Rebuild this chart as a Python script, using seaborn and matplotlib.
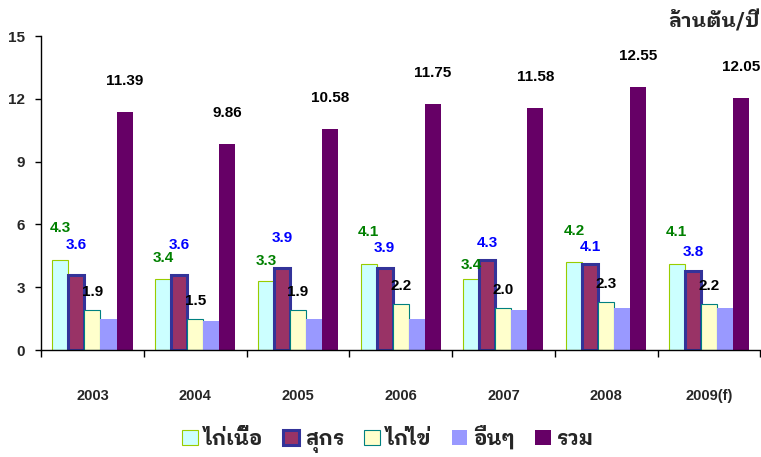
import numpy as np
import pandas as pd
import matplotlib
matplotlib.use('Agg')
import matplotlib.pyplot as plt
import seaborn as sns
from matplotlib.patches import Patch
from matplotlib import font_manager
from matplotlib.ft2font import FT2Font

# data (million tonnes / year)
years = ['2003', '2004', '2005', '2006', '2007', '2008', '2009(f)']
series_names = ['ไก่เนื้อ', 'สุกร', 'ไก่ไข่', 'อื่นๆ', 'รวม']
broiler = [4.3, 3.4, 3.3, 4.1, 3.4, 4.2, 4.1]
swine = [3.6, 3.6, 3.9, 3.9, 4.3, 4.1, 3.8]
layer = [1.9, 1.5, 1.9, 2.2, 2.0, 2.3, 2.2]
other = [1.5, 1.4, 1.5, 1.5, 1.9, 2.0, 2.0]
total = [11.39, 9.86, 10.58, 11.75, 11.58, 12.55, 12.05]

fills = ['#CCFFFF', '#993366', '#FFFFCC', '#9999FF', '#660066']
edges = ['#99CC00', '#333399', '#008080', '#9999FF', '#660066']
edge_widths = [0.8, 2.2, 0.8, 0, 0]

# label lift above bar top, in pixels (hand placed in the original)
broiler_lift = [32, 21, 20, 32, 14, 31, 32]
swine_lift = [30, 30, 30, 20, 17, 17, 19]

# pick a font that has Thai glyphs, prefer looped ones with a bold face
names = set()
for f in font_manager.fontManager.ttflist:
    try:
        if 0x0E01 in FT2Font(f.fname).get_charmap():
            names.add(f.name)
    except Exception:
        pass
preferred = ['IBM Plex Sans Thai Looped', 'Noto Sans Thai Looped', 'Loma', 'Garuda', 'Sarabun']
thai_family = next((p for p in preferred if p in names), sorted(names)[0] if names else 'DejaVu Sans')

sns.set_style('white')
plt.rcParams['font.family'] = ['Liberation Sans', thai_family, 'DejaVu Sans']

df = pd.DataFrame({
    'year': years * 5,
    'type': np.repeat(series_names, len(years)),
    'value': broiler + swine + layer + other + total,
})

fig = plt.figure(figsize=(7.61, 4.57), dpi=100)
ax = fig.add_axes([0.054, 0.234, 0.945, 0.687])

sns.barplot(data=df, x='year', y='value', hue='type', hue_order=series_names,
            palette=fills, width=0.78, saturation=1, legend=False, ax=ax)

for cont, ec, lw in zip(ax.containers, edges, edge_widths):
    for bar in cont:
        bar.set_edgecolor(ec)
        bar.set_linewidth(lw)

# value labels
label_sets = [(0, broiler, '#008000', broiler_lift, '{:.1f}'),
              (1, swine, '#0000FF', swine_lift, '{:.1f}'),
              (2, layer, 'black', [18] * len(years), '{:.1f}'),
              (4, total, 'black', [31] * len(years), '{:.2f}')]
for idx, vals, col, lifts, fmt in label_sets:
    for bar, v, off in zip(ax.containers[idx], vals, lifts):
        ax.annotate(fmt.format(v), (bar.get_x() + bar.get_width() / 2, v),
                    xytext=(0, off), textcoords='offset pixels',
                    ha='center', va='center', color=col,
                    fontsize=11, fontweight='bold')

ax.set_ylim(0, 15)
ax.set_yticks([0, 3, 6, 9, 12, 15])
ax.set_xlim(-0.5, len(years) - 0.5)
ax.set_xticks(np.arange(-0.5, len(years), 1))
ax.set_xticklabels([])
ax.set_xticks(np.arange(len(years)), minor=True)
ax.set_xticklabels(years, minor=True, fontsize=10.5, fontweight='bold')
ax.tick_params(axis='x', which='major', direction='out', length=5, width=1, color='black', bottom=True)
ax.tick_params(axis='x', which='minor', length=0, pad=28)
ax.tick_params(axis='y', direction='out', length=4.5, width=1, color='black', left=True, pad=7)
for t in ax.get_yticklabels():
    t.set_fontweight('bold')
    t.set_fontsize(11)
ax.set_xlabel('')
ax.set_ylabel('')
sns.despine(ax=ax)
for s in ['left', 'bottom']:
    ax.spines[s].set_color('black')
    ax.spines[s].set_linewidth(1)

fig.text(0.999, 0.955, 'ล้านตัน/ปี', ha='right', va='center', fontsize=14.5,
         fontweight='bold', family=[thai_family, 'DejaVu Sans'])

handles = [Patch(facecolor=fc, edgecolor=ec, linewidth=lw)
           for fc, ec, lw in zip(fills, edges, edge_widths)]
fig.legend(handles, series_names, loc='center', bbox_to_anchor=(0.51, 0.04),
           ncol=5, frameon=False, handlelength=0.75, handleheight=0.75, handletextpad=0.3,
           columnspacing=0.95, prop={'family': [thai_family, 'DejaVu Sans'], 'size': 15, 'weight': 'bold'})

fig.savefig('out.png', dpi=100)
